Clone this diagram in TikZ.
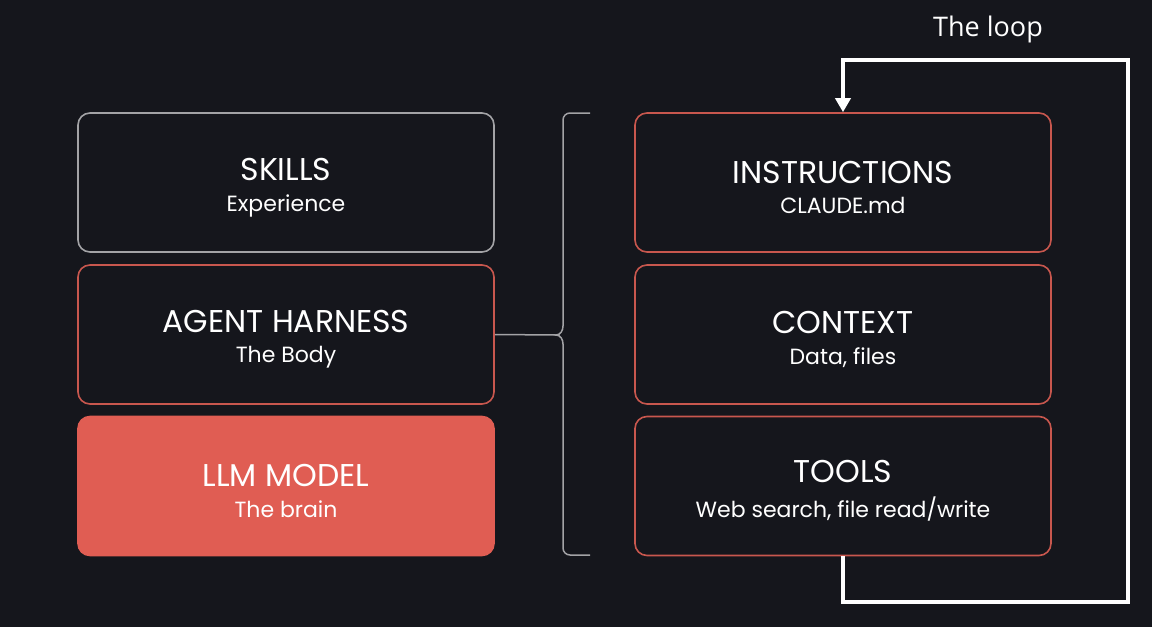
\documentclass[tikz,border=0pt]{standalone}
\usepackage{fontspec}
\setmainfont{Poppins}
\newfontfamily\loopfont{Open Sans}
\usetikzlibrary{arrows.meta}

\definecolor{bgdark}{HTML}{15161C}
\definecolor{edgegray}{HTML}{A3A3A6}
\definecolor{edgered}{HTML}{C8574E}
\definecolor{fillred}{HTML}{E05D53}

\newcommand{\boxtext}[2]{{\fontsize{31.5}{34}\selectfont\rule{0pt}{32pt}#1}\\[13pt]{\fontsize{22}{25}\selectfont #2}}

\tikzset{
  layer/.style={rounded corners=12pt, line width=1.6pt, minimum width=416pt,
    minimum height=139pt, text=white, align=center, inner sep=0pt},
  graybox/.style={layer, draw=edgegray, fill=bgdark},
  redbox/.style={layer, draw=edgered, fill=bgdark},
  solidbox/.style={layer, draw=fillred, fill=fillred},
  brace/.style={edgegray, line width=1.5pt},
  loopline/.style={white, line width=4pt, line join=miter}
}

\begin{document}
\begin{tikzpicture}[x=1pt, y=-1pt]
% achtergrond
\fill[bgdark] (0,0) rectangle (1152,627);
\useasboundingbox (0,0) rectangle (1152,627);

% linker kolom
\node[graybox] (skills) at (286,182.5) {\boxtext{SKILLS}{Experience}};
\node[redbox] (harness) at (286,334.5) {\boxtext{AGENT HARNESS}{The Body}};
\node[solidbox] (llm) at (286,486) {\boxtext{LLM MODEL}{The brain}};

% rechter kolom
\node[redbox] (instr) at (843,182.5) {\boxtext{INSTRUCTIONS}{CLAUDE.md}};
\node[redbox] (context) at (843,334.5) {\boxtext{CONTEXT}{Data, files}};
\node[redbox] (tools) at (843,486) {\boxtext{TOOLS}{Web search, file read/write}};

% accolade
\coordinate (cusp) at (556,335);
\draw[brace] (harness.east) -- (cusp);
\draw[brace] (590,113) -- (570,113) to[out=180,in=90] (563,120) -- (563,326)
  to[out=-90,in=0] (cusp) to[out=0,in=90] (563,344) -- (563,548)
  to[out=-90,in=180] (570,555) -- (590,555);

% de lus
\draw[loopline, -{Triangle[width=15pt,length=14pt]}] (tools.south) -- (843,602) -- (1128,602)
  -- (1128,60) -- (843,60) -- (instr.north);
\node[text=white, font=\loopfont\fontsize{27}{30}\selectfont] (looplabel) at (988,29) {The loop};
\end{tikzpicture}
\end{document}
